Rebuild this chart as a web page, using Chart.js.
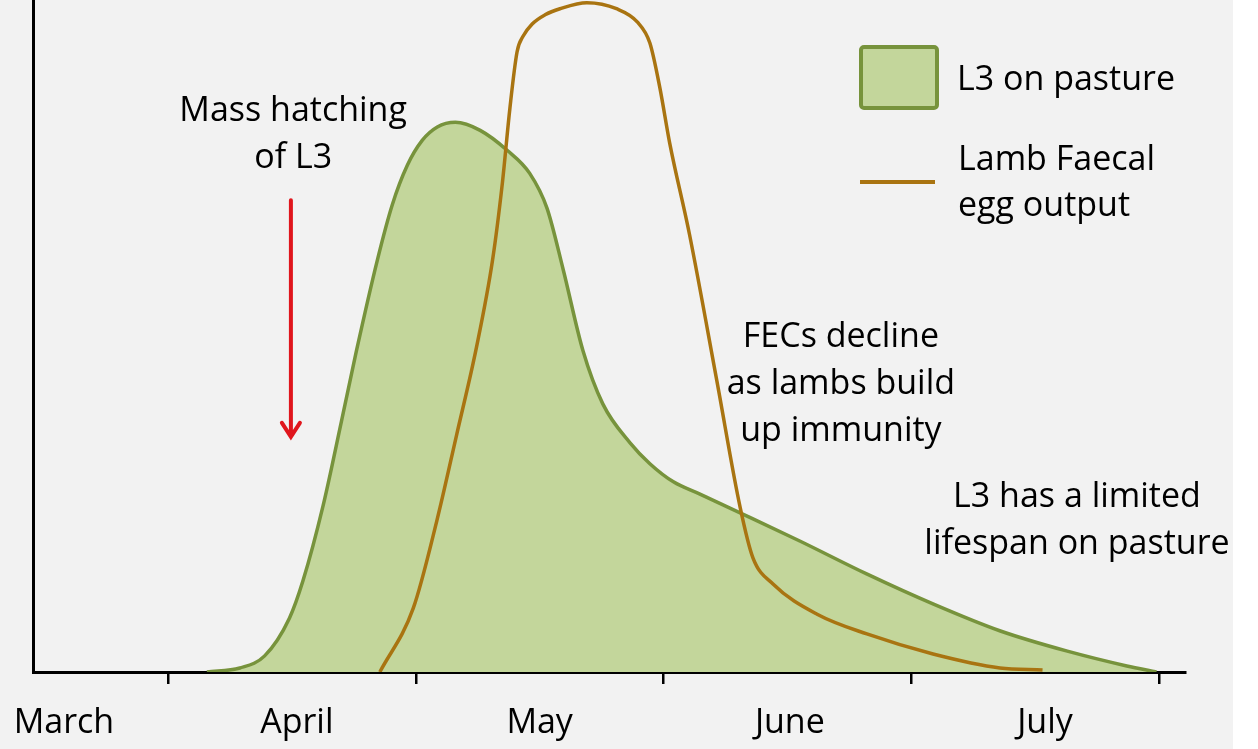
<!DOCTYPE html>
<html>
<head>
<meta charset="utf-8">
<script src="https://cdn.jsdelivr.net/npm/chart.js@4.4.0/dist/chart.umd.min.js"></script>
<style>
html,body{margin:0;padding:0;overflow:hidden;background:#fff}
#wrap{width:1258px;height:749px;overflow:hidden;background:linear-gradient(to right,#f2f2f2 1233px,#fff 1233px)}
</style>
</head>
<body>
<div id="wrap"><canvas id="myChart" width="1258" height="780"></canvas></div>
<script>
// x is in months: 1 = start of April, 2 = start of May ...
var months = ["March", "April", "May", "June", "July"];
var monthPos = [0.58, 1.52, 2.5, 3.51, 4.54];
var monthTicks = [1, 2, 3, 4, 5];

// L3 on pasture
var l3X = [1.157,1.29,1.39,1.49,1.545,1.625,1.70,1.76,1.845,1.905,1.966,2.026,2.087,2.16,2.26,2.37,2.46,2.53,2.595,2.675,2.755,2.865,2.945,3.04,3.145,3.32,3.55,3.82,4.09,4.36,4.63,4.87,4.99];
var l3Y = [0,0.6,2.4,8.0,13.6,24.6,37.3,47.7,61.3,69.5,75.4,79.1,81.1,81.8,80.6,77.6,74.2,69.0,59.9,47.8,39.9,34.1,31.0,28.3,26.5,23.5,19.5,14.6,10.1,6.1,3.1,0.9,0];

// lamb faecal egg output
var fecX = [1.855,1.99,2.085,2.165,2.245,2.31,2.35,2.38,2.409,2.433,2.469,2.522,2.582,2.691,2.81,2.895,2.945,2.985,3.025,3.105,3.215,3.31,3.361,3.442,3.62,3.821,4.088,4.358,4.53];
var fecY = [0,9.5,22.5,35.3,48.3,61.3,72.9,83.9,92.3,94.6,96.4,97.8,98.7,99.6,98.7,96.7,93.6,87.0,78.7,65.1,43.4,24.4,17.0,13.1,8.6,5.66,2.68,0.6,0.3];

// text on the plot, anchored in data units (x month, y baseline of first line)
var notes = [
  {x: 1.505, y: 82.0, lines: ["Mass hatching", "of L3"]},
  {x: 3.716, y: 48.3, lines: ["FECs decline", "as lambs build", "up immunity"]},
  {x: 4.669, y: 24.6, lines: ["L3 has a limited", "lifespan on pasture"]}
];
var arrow = {x: 1.496, from: 70.2, to: 35.0};

var FONT = "34px 'Open Sans'";

function pts(xs, ys) {
  return xs.map(function (x, i) { return {x: x, y: ys[i]}; });
}

var extras = {
  id: "extras",
  afterDatasetsDraw: function (chart) {
    var ctx = chart.ctx, sx = chart.scales.x, sy = chart.scales.y;
    ctx.save();
    ctx.fillStyle = "#000";
    ctx.font = FONT;
    ctx.textAlign = "center";
    ctx.textBaseline = "alphabetic";
    notes.forEach(function (n) {
      var px = sx.getPixelForValue(n.x), py = sy.getPixelForValue(n.y);
      n.lines.forEach(function (t, i) { ctx.fillText(t, px, py + i * 47); });
    });

    // red arrow
    var ax = sx.getPixelForValue(arrow.x), ay1 = sy.getPixelForValue(arrow.from), ay2 = sy.getPixelForValue(arrow.to);
    ctx.strokeStyle = "#e0161d";
    ctx.lineWidth = 4;
    ctx.lineCap = "round";
    ctx.beginPath();
    ctx.moveTo(ax, ay1); ctx.lineTo(ax, ay2 - 1);
    ctx.moveTo(ax - 9, ay2 - 14); ctx.lineTo(ax, ay2); ctx.lineTo(ax + 9, ay2 - 14);
    ctx.stroke();

    // legend
    var ds = chart.data.datasets;
    var l3 = ds[1], fec = ds[0];
    ctx.lineCap = "butt";
    ctx.fillStyle = l3.backgroundColor;
    ctx.strokeStyle = l3.borderColor;
    ctx.lineWidth = 4;
    ctx.beginPath();
    ctx.roundRect(861, 47, 76, 61, 3);
    ctx.fill(); ctx.stroke();
    ctx.strokeStyle = fec.borderColor;
    ctx.beginPath();
    ctx.moveTo(860, 182); ctx.lineTo(935, 182);
    ctx.stroke();
    ctx.fillStyle = "#000";
    ctx.textAlign = "left";
    ctx.fillText(l3.label, 957, 90);
    ["Lamb Faecal", "egg output"].forEach(function (t, i) { ctx.fillText(t, 958, 170 + i * 46); });
    ctx.restore();
  }
};

new Chart("myChart", {
  type: "line",
  data: {
    datasets: [{
      label: "Lamb Faecal egg output",
      data: pts(fecX, fecY),
      xAxisID: "x",
      borderColor: "#a97411",
      borderWidth: 3.5,
      pointRadius: 0,
      fill: false,
      cubicInterpolationMode: "monotone",
      order: 0
    }, {
      label: "L3 on pasture",
      data: pts(l3X, l3Y),
      xAxisID: "x",
      borderColor: "#77933c",
      backgroundColor: "#c3d69b",
      borderWidth: 3.5,
      pointRadius: 0,
      fill: "origin",
      cubicInterpolationMode: "monotone",
      order: 1
    }]
  },
  options: {
    responsive: false,
    animation: false,
    devicePixelRatio: 1,
    layout: {padding: {left: 33, right: 73, top: 0, bottom: 26}},
    plugins: {legend: {display: false}, tooltip: {enabled: false}},
    scales: {
      x: {
        type: "linear", min: 0.455, max: 5.105, weight: 0,
        afterBuildTicks: function (s) { s.ticks = monthTicks.map(function (v) { return {value: v}; }); },
        grid: {drawOnChartArea: false, drawTicks: true, tickLength: 12, color: "#000", lineWidth: 2.5},
        border: {display: true, color: "#000", width: 3},
        ticks: {display: false}
      },
      xl: {
        type: "linear", axis: "x", position: "bottom", min: 0.455, max: 5.105, weight: 1,
        afterBuildTicks: function (s) { s.ticks = monthPos.map(function (v) { return {value: v}; }); },
        afterFit: function (s) { s.paddingLeft = 0; s.paddingRight = 0; },
        grid: {display: false},
        border: {display: false},
        ticks: {
          autoSkip: false, maxRotation: 0, padding: 14, color: "#000",
          font: {family: "'Open Sans'", size: 34, lineHeight: 1},
          callback: function (v, i) { return months[i]; }
        }
      },
      y: {
        min: 0, max: 100,
        grid: {display: false, drawTicks: false},
        border: {display: true, color: "#000", width: 3},
        ticks: {display: false}
      }
    }
  },
  plugins: [extras]
});
</script>
</body>
</html>
